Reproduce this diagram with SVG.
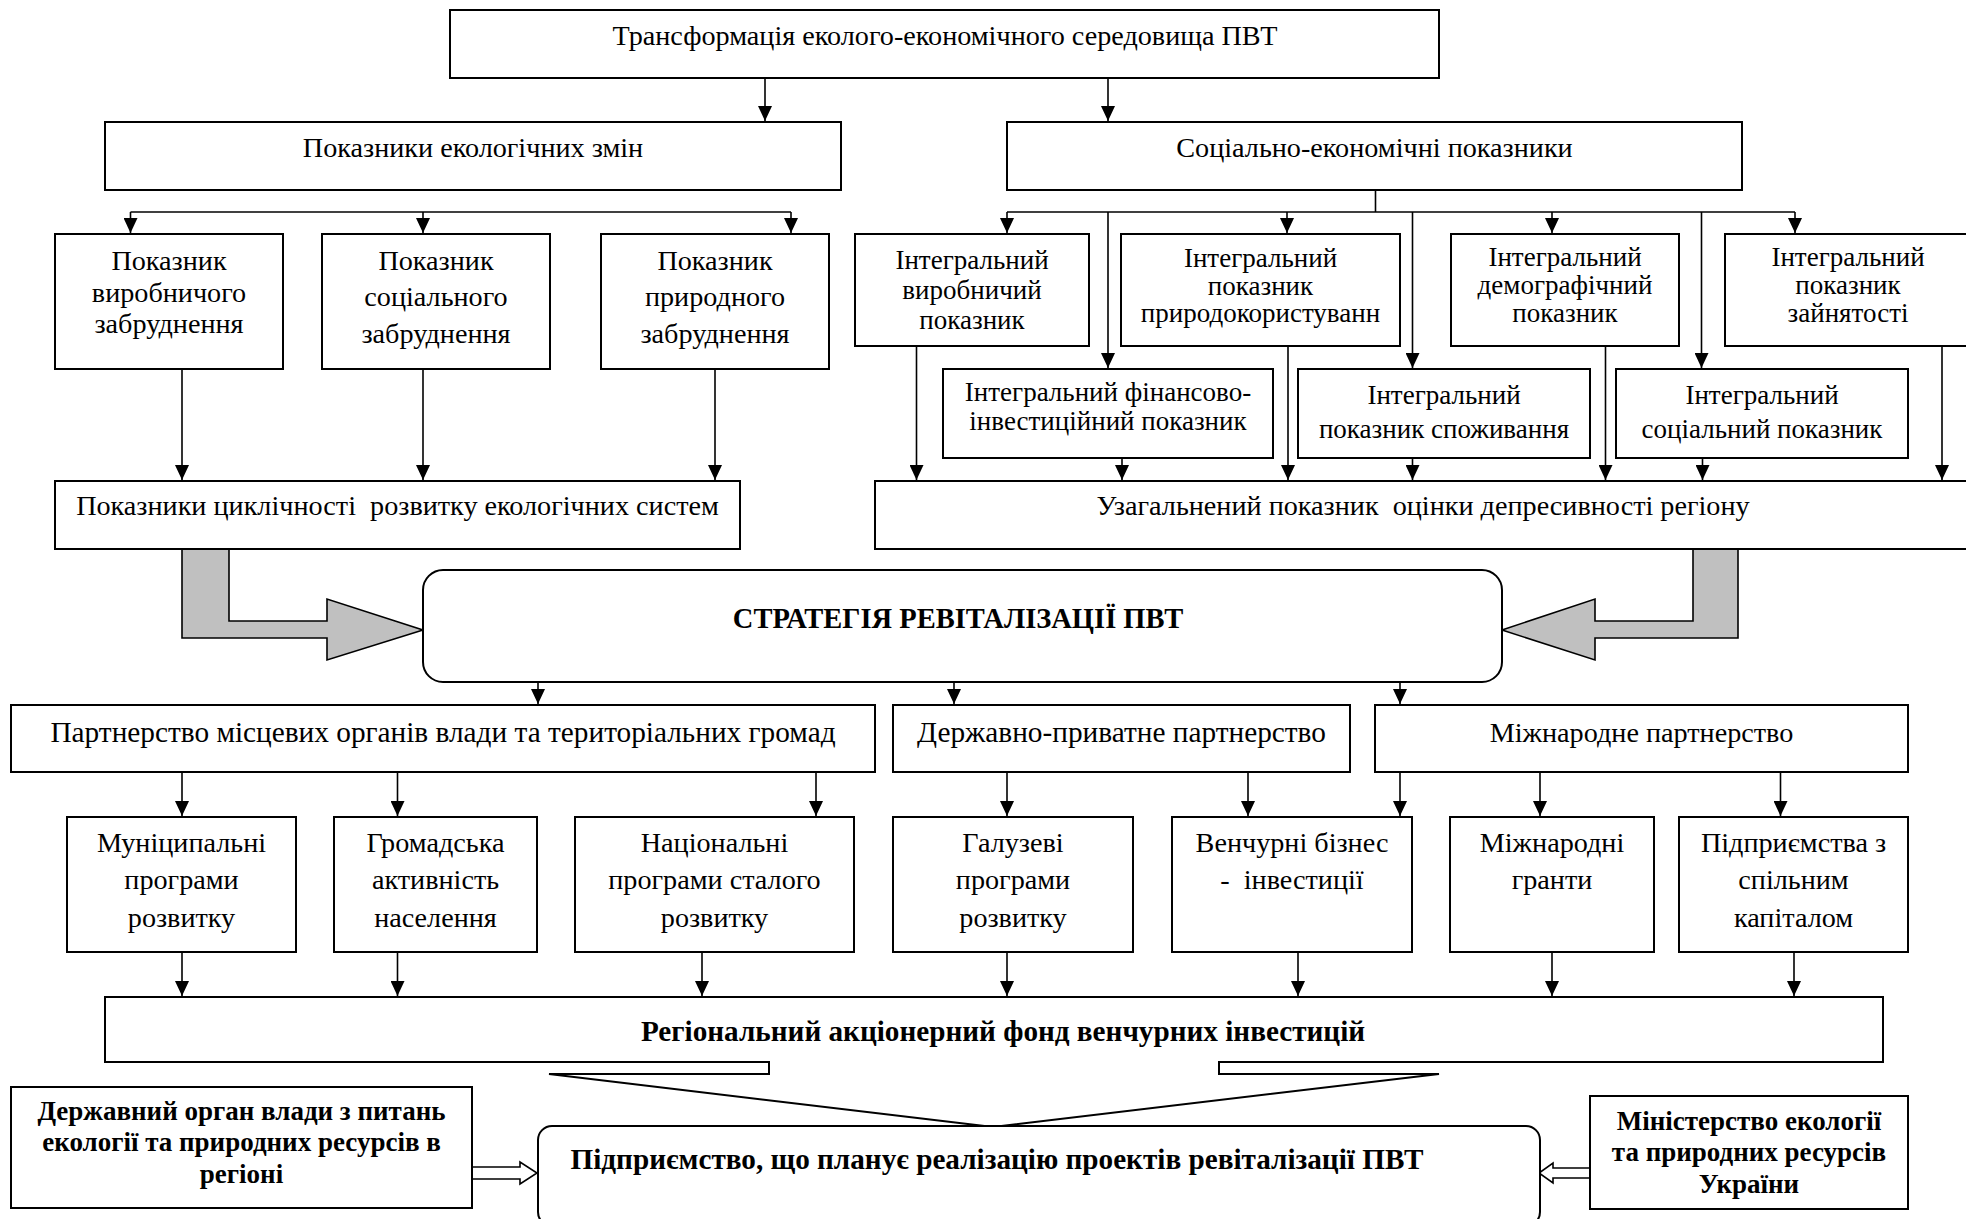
<svg xmlns="http://www.w3.org/2000/svg" width="1966" height="1219" viewBox="0 0 1966 1219">
<defs>
<style>
.b{fill:#fff;stroke:#000;stroke-width:2}
.t{font-family:"Liberation Serif","Times New Roman",serif;font-size:28.2px;fill:#000;text-anchor:middle}
.ti{font-size:27px}
.tp{font-size:29.3px}
.tb{font-family:"Liberation Serif","Times New Roman",serif;font-size:29.2px;font-weight:bold;fill:#000;text-anchor:middle}
.ts{font-size:27px}
.c{fill:none;stroke:#000;stroke-width:1.6}
.a{fill:none;stroke:#000;stroke-width:1.6;marker-end:url(#ah)}
.g{fill:#c0c0c0;stroke:#000;stroke-width:1.6;stroke-linejoin:miter}
.h{fill:#fff;stroke:#000;stroke-width:1.6}
</style>
<marker id="ah" markerUnits="userSpaceOnUse" markerWidth="16" markerHeight="14" refX="15" refY="7" orient="auto">
<path d="M0,0 L15,7 L0,14 Z" fill="#000"/>
</marker>
</defs>
<rect width="1966" height="1219" fill="#fff"/>

<g id="connectors">
<path class="a" d="M765,78 V121"/>
<path class="a" d="M1108,78 V121"/>
<path class="c" d="M130.5,212 H791"/>
<path class="a" d="M130.5,212 V233"/>
<path class="a" d="M423,212 V233"/>
<path class="a" d="M791,212 V233"/>
<path class="c" d="M1375.5,190 V212 M1007,212 H1795"/>
<path class="a" d="M1007,212 V233"/>
<path class="a" d="M1287,212 V233"/>
<path class="a" d="M1552,212 V233"/>
<path class="a" d="M1795,212 V233"/>
<path class="a" d="M1108,212 V368"/>
<path class="a" d="M1412.5,212 V368"/>
<path class="a" d="M1701.5,212 V368"/>
<path class="a" d="M182,369 V480"/>
<path class="a" d="M423,369 V480"/>
<path class="a" d="M715,369 V480"/>
<path class="a" d="M916.5,346 V480"/>
<path class="a" d="M1122,458 V480"/>
<path class="a" d="M1288,346 V480"/>
<path class="a" d="M1412.5,458 V480"/>
<path class="a" d="M1605.5,346 V480"/>
<path class="a" d="M1702.5,458 V480"/>
<path class="a" d="M1942,346 V480"/>
<path class="g" d="M182,549 V638 H327 V660 L423,630 L327,599 V621 H229 V549 Z"/>
<path class="g" d="M1738,549 V638 H1595 V660 L1502,630 L1595,599 V621 H1693 V549 Z"/>
<path class="a" d="M538,682 V704"/>
<path class="a" d="M954,682 V704"/>
<path class="a" d="M1400,682 V704"/>
<path class="a" d="M182,772 V816"/>
<path class="a" d="M397.5,772 V816"/>
<path class="a" d="M816,772 V816"/>
<path class="a" d="M1007,772 V816"/>
<path class="a" d="M1248,772 V816"/>
<path class="a" d="M1400,772 V816"/>
<path class="a" d="M1540,772 V816"/>
<path class="a" d="M1780.5,772 V816"/>
<path class="a" d="M182,952 V996"/>
<path class="a" d="M397.5,952 V996"/>
<path class="a" d="M702,952 V996"/>
<path class="a" d="M1007,952 V996"/>
<path class="a" d="M1298,952 V996"/>
<path class="a" d="M1552,952 V996"/>
<path class="a" d="M1794,952 V996"/>
<path class="h" d="M472,1167 H520 V1162 L537,1173 L520,1184 V1179 H472 Z"/>
<path class="h" d="M1590,1168 H1553 V1163 L1539,1173 L1553,1183 V1178 H1590 Z"/>
</g>

<g id="n-top"><rect class="b" x="450" y="10" width="989" height="68"/><text class="t" x="945" y="45">Трансформація еколого-економічного середовища ПВТ</text></g>
<g id="n-eco"><rect class="b" x="105" y="122" width="736" height="68"/><text class="t" x="473" y="157">Показники екологічних змін</text></g>
<g id="n-soc"><rect class="b" x="1007" y="122" width="735" height="68"/><text class="t" x="1374.5" y="157">Соціально-економічні показники</text></g>

<g id="n-vyr"><rect class="b" x="55" y="234" width="228" height="135"/><text class="t"><tspan x="169" y="270">Показник</tspan><tspan x="169" y="302">виробничого</tspan><tspan x="169" y="333">забруднення</tspan></text></g>
<g id="n-sots"><rect class="b" x="322" y="234" width="228" height="135"/><text class="t"><tspan x="436" y="270">Показник</tspan><tspan x="436" y="306">соціального</tspan><tspan x="436" y="343">забруднення</tspan></text></g>
<g id="n-pryr"><rect class="b" x="601" y="234" width="228" height="135"/><text class="t"><tspan x="715" y="270">Показник</tspan><tspan x="715" y="306">природного</tspan><tspan x="715" y="343">забруднення</tspan></text></g>

<g id="n-i-vyr"><rect class="b" x="855" y="234" width="234" height="112"/><text class="t ti"><tspan x="972" y="269">Інтегральний</tspan><tspan x="972" y="299">виробничий</tspan><tspan x="972" y="329">показник</tspan></text></g>
<g id="n-i-pryr"><rect class="b" x="1121" y="234" width="279" height="112"/><text class="t ti"><tspan x="1260.5" y="267">Інтегральний</tspan><tspan x="1260.5" y="295">показник</tspan><tspan x="1260.5" y="322">природокористуванн</tspan></text></g>
<g id="n-i-dem"><rect class="b" x="1451" y="234" width="228" height="112"/><text class="t ti"><tspan x="1565" y="266">Інтегральний</tspan><tspan x="1565" y="294">демографічний</tspan><tspan x="1565" y="322">показник</tspan></text></g>
<g id="n-i-zayn"><rect class="b" x="1725" y="234" width="246" height="112"/><text class="t ti"><tspan x="1848" y="266">Інтегральний</tspan><tspan x="1848" y="294">показник</tspan><tspan x="1848" y="322">зайнятості</tspan></text></g>

<g id="n-i-fin"><rect class="b" x="943" y="369" width="330" height="89"/><text class="t ti"><tspan x="1108" y="401">Інтегральний фінансово-</tspan><tspan x="1108" y="430">інвестиційний  показник</tspan></text></g>
<g id="n-i-spoz"><rect class="b" x="1298" y="369" width="292" height="89"/><text class="t ti"><tspan x="1444" y="404">Інтегральний</tspan><tspan x="1444" y="438">показник споживання</tspan></text></g>
<g id="n-i-sots"><rect class="b" x="1616" y="369" width="292" height="89"/><text class="t ti"><tspan x="1762" y="404">Інтегральний</tspan><tspan x="1762" y="438">соціальний показник</tspan></text></g>

<g id="n-cykl"><rect class="b" x="55" y="481" width="685" height="68"/><text class="t" x="397.5" y="515" xml:space="preserve">Показники циклічності  розвитку екологічних систем</text></g>
<g id="n-uzag"><rect class="b" x="875" y="481" width="1100" height="68"/><text class="t" x="1423" y="515" xml:space="preserve">Узагальнений показник  оцінки депресивності регіону</text></g>

<g id="n-strat"><rect class="b" x="423" y="570" width="1079" height="112" rx="20" ry="20"/><text class="tb" x="958" y="628" style="font-size:28.5px">СТРАТЕГІЯ РЕВІТАЛІЗАЦІЇ ПВТ</text></g>

<g id="n-p1"><rect class="b" x="11" y="705" width="864" height="67"/><text class="t tp" x="443" y="742">Партнерство місцевих органів влади та територіальних громад</text></g>
<g id="n-p2"><rect class="b" x="893" y="705" width="457" height="67"/><text class="t tp" x="1121.5" y="742">Державно-приватне партнерство</text></g>
<g id="n-p3"><rect class="b" x="1375" y="705" width="533" height="67"/><text class="t" x="1641.5" y="742">Міжнародне партнерство</text></g>

<g id="n-mun"><rect class="b" x="67" y="817" width="229" height="135"/><text class="t"><tspan x="181.5" y="852">Муніципальні</tspan><tspan x="181.5" y="889">програми</tspan><tspan x="181.5" y="927">розвитку</tspan></text></g>
<g id="n-hrom"><rect class="b" x="334" y="817" width="203" height="135"/><text class="t"><tspan x="435.5" y="852">Громадська</tspan><tspan x="435.5" y="889">активність</tspan><tspan x="435.5" y="927">населення</tspan></text></g>
<g id="n-nats"><rect class="b" x="575" y="817" width="279" height="135"/><text class="t"><tspan x="714.5" y="852">Національні</tspan><tspan x="714.5" y="889">програми сталого</tspan><tspan x="714.5" y="927">розвитку</tspan></text></g>
<g id="n-hal"><rect class="b" x="893" y="817" width="240" height="135"/><text class="t"><tspan x="1013" y="852">Галузеві</tspan><tspan x="1013" y="889">програми</tspan><tspan x="1013" y="927">розвитку</tspan></text></g>
<g id="n-ven"><rect class="b" x="1172" y="817" width="240" height="135"/><text class="t" xml:space="preserve"><tspan x="1292" y="852">Венчурні бізнес</tspan><tspan x="1292" y="889">-  інвестиції</tspan></text></g>
<g id="n-gr"><rect class="b" x="1450" y="817" width="204" height="135"/><text class="t"><tspan x="1552" y="852">Міжнародні</tspan><tspan x="1552" y="889">гранти</tspan></text></g>
<g id="n-spil"><rect class="b" x="1679" y="817" width="229" height="135"/><text class="t"><tspan x="1793.5" y="852">Підприємства з</tspan><tspan x="1793.5" y="889">спільним</tspan><tspan x="1793.5" y="927">капіталом</tspan></text></g>

<g id="n-fund"><path class="b" d="M105,997 H1883 V1062 H1219 V1074 H1439 L993,1127 L549,1074 H769 V1062 H105 Z"/><text class="tb" x="1003" y="1041">Регіональний акціонерний фонд венчурних інвестицій</text></g>

<g id="n-derzh"><rect class="b" x="11" y="1087" width="461" height="121"/><text class="tb ts"><tspan x="241.5" y="1120">Державний орган влади з питань</tspan><tspan x="241.5" y="1151">екології та природних ресурсів в</tspan><tspan x="241.5" y="1183">регіоні</tspan></text></g>
<g id="n-pidpr"><rect class="b" x="538" y="1126" width="1002" height="100" rx="14" ry="14"/><text class="tb" x="997" y="1169">Підприємство, що планує реалізацію проектів ревіталізації ПВТ</text></g>
<g id="n-min"><rect class="b" x="1590" y="1096" width="318" height="113"/><text class="tb ts"><tspan x="1749" y="1130">Міністерство екології</tspan><tspan x="1749" y="1161">та природних ресурсів</tspan><tspan x="1749" y="1193">України</tspan></text></g>
</svg>
